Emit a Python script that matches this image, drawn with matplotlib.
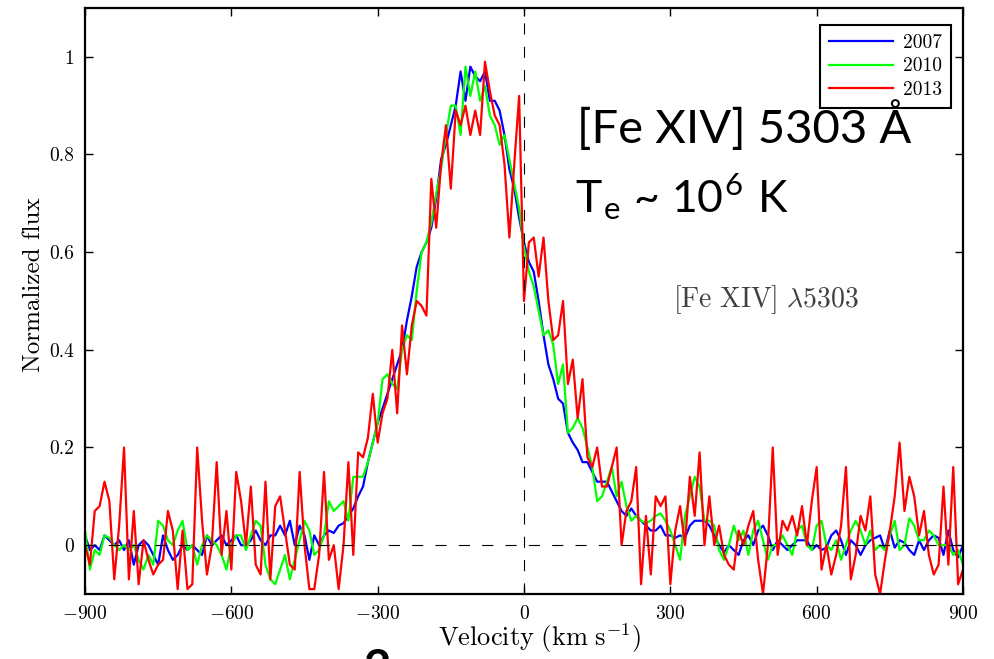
import numpy as np
import matplotlib
matplotlib.use('Agg')
import matplotlib.pyplot as plt

plt.rcParams['mathtext.fontset'] = 'cm'
plt.rcParams['font.family'] = 'serif'
plt.rcParams['font.serif'] = ['cmr10']
plt.rcParams['axes.unicode_minus'] = False

# velocity grid (km/s), one sample every 10 km/s
vel = np.arange(-900, 901, 10)

# 2007 (blue)
flux_2007 = [
    0.02, -0.01, 0.0, -0.01, 0.02, 0.01, 0.0, 0.01, -0.01, 0.01,
    -0.04, 0.0, 0.01, 0.0, -0.02, -0.04, 0.02, -0.01, -0.03, -0.02,
    0.0, -0.01, 0.0, -0.01, -0.02, 0.02, 0.0, 0.01, 0.02, 0.0,
    0.01, 0.02, 0.0,
    0.0, 0.01, 0.03, 0.01, 0.0, 0.02, 0.02, 0.04, 0.02, 0.05,
    0.0, 0.04, 0.02, -0.03, 0.02, 0.0, 0.02, 0.03, 0.025, 0.04,
    0.045, 0.06, 0.075, 0.10, 0.12, 0.17, 0.21, 0.25,
    0.28, 0.31, 0.34, 0.37, 0.40, 0.46, 0.51, 0.57, 0.60, 0.62,
    0.65, 0.71, 0.79, 0.82, 0.86, 0.90, 0.97, 0.91, 0.98, 0.96,
    0.95, 0.97, 0.91, 0.91, 0.89, 0.84, 0.77, 0.73, 0.67,
    0.62,
    0.58, 0.56, 0.50, 0.43, 0.37, 0.34, 0.30, 0.29, 0.23, 0.21,
    0.195, 0.17, 0.17, 0.15, 0.13, 0.13, 0.13, 0.11, 0.09, 0.07,
    0.06, 0.075, 0.06, 0.05, 0.04, 0.03, 0.03, 0.04, 0.02, 0.02,
    0.015, 0.02, 0.015, 0.04,
    0.05, 0.05, 0.05, 0.04, 0.02, 0.0, -0.015, 0.0, -0.01, -0.02,
    0.01, 0.02, 0.0, 0.03, 0.04, 0.02, -0.01, 0.01, 0.0, -0.01,
    0.0, 0.01, 0.01, 0.01, -0.01, 0.0, -0.01, -0.005, 0.02, 0.03,
    0.01, -0.02, 0.01, 0.0, -0.02, 0.0, 0.01, 0.015, 0.02, -0.01,
    0.03, -0.005, 0.01, 0.005, -0.01, -0.02, 0.01, -0.01, 0.01, 0.02,
    0.015, -0.02, 0.03, -0.01, -0.025, 0.0,
]

# 2010 (green)
flux_2010 = [
    0.03, -0.05, -0.01, -0.02, 0.02, 0.015, 0.0, -0.01, 0.0, -0.01,
    0.0, -0.03, -0.05, -0.02, -0.04, 0.05, 0.04, 0.01, 0.0, 0.03,
    0.05, -0.01, 0.0, -0.04, 0.0, 0.02, 0.01, 0.0, -0.02, -0.05,
    0.0, 0.02, 0.02,
    -0.01, 0.02, 0.05, 0.04, -0.04, -0.07, -0.08, -0.05, -0.02, -0.07,
    -0.03, 0.01, 0.05, 0.03, -0.02, -0.01, 0.02, 0.09, 0.07, 0.08,
    0.09, 0.05, 0.14, 0.14, 0.14, 0.17, 0.21, 0.25,
    0.34, 0.35, 0.33, 0.32, 0.40, 0.43, 0.42, 0.52, 0.60, 0.62,
    0.66, 0.72, 0.77, 0.84, 0.90, 0.90, 0.84, 0.98, 0.92, 0.97,
    0.91, 0.94, 0.88, 0.86, 0.82, 0.84, 0.79, 0.74, 0.69,
    0.61,
    0.56, 0.53, 0.48, 0.43, 0.44, 0.41, 0.33, 0.37, 0.23, 0.24,
    0.26, 0.24, 0.20, 0.16, 0.09, 0.10, 0.13, 0.16, 0.10, 0.13,
    0.08, 0.05, 0.06, 0.05, 0.045, 0.05, 0.06, 0.065, 0.05, 0.03,
    0.0, -0.03, 0.06, 0.10,
    0.14, 0.12, 0.05, 0.05, 0.04, -0.01, -0.03, 0.0, 0.04, 0.01,
    0.03, -0.02, 0.03, 0.05, 0.01, -0.03, 0.0, 0.0, 0.02, 0.0,
    -0.02, 0.03, 0.04, 0.0, -0.01, 0.04, 0.05, 0.0, -0.01, 0.01,
    -0.03, 0.0, 0.03, 0.05, 0.03, 0.0, 0.03, -0.01, 0.0, -0.01,
    0.02, 0.05, -0.01, 0.0, 0.055, 0.04, 0.01, 0.01, 0.03, 0.02,
    0.0, 0.0, 0.0, -0.02, -0.01, -0.04,
]

# 2013 (red)
flux_2013 = [
    0.0, -0.04, 0.07, 0.08, 0.13, 0.09, -0.07, 0.04, 0.20, -0.07,
    0.07, -0.08, 0.01, -0.03, -0.06, -0.04, -0.03, 0.07, 0.03, -0.09,
    0.03, -0.09, -0.08, 0.20, 0.05, -0.06, 0.0, 0.17, -0.02, 0.07,
    -0.05, 0.15, 0.09, 0.0,
    0.12, -0.04, -0.06, 0.13, -0.07, 0.08, 0.10, 0.03, -0.04, -0.05,
    0.15, 0.0, -0.09, -0.09, -0.02, 0.15, -0.03, 0.0, -0.09, 0.0,
    0.17, -0.02, 0.19, 0.18, 0.22, 0.31, 0.21, 0.27, 0.30,
    0.40, 0.27, 0.45, 0.35, 0.45, 0.50, 0.49, 0.47, 0.75, 0.65,
    0.78, 0.86, 0.73, 0.89, 0.86, 0.90, 0.84, 0.89, 0.84, 0.99,
    0.93, 0.88, 0.86, 0.78, 0.63, 0.78, 0.92, 0.50, 0.62, 0.63,
    0.55, 0.63, 0.50, 0.42, 0.43, 0.50, 0.33, 0.38, 0.26, 0.34,
    0.18, 0.16, 0.20, 0.12, 0.12, 0.16, 0.20, 0.0, 0.07, 0.09,
    0.16, -0.08, 0.06, -0.06, 0.10, 0.08, 0.10, -0.08, 0.03, 0.08,
    0.0, 0.14,
    0.06, 0.19, 0.0, 0.10, 0.0, 0.04, -0.02, -0.04, -0.05,
    0.03, 0.0, 0.04, 0.07, -0.03, -0.10, 0.0, 0.20, -0.02, 0.05,
    0.03, 0.06, 0.02, 0.08, 0.0, 0.09, 0.16, -0.05, 0.0, -0.06,
    -0.02, 0.04, 0.16, -0.07, -0.02, 0.06, 0.03, 0.10, -0.06, -0.10,
    -0.03, 0.03, 0.10, 0.21, 0.07, 0.14, 0.10, 0.02, 0.07, -0.02,
    -0.06, -0.04, 0.12, -0.04, 0.16, -0.08, -0.05,
]

years = ['2007', '2010', '2013']
colors = [(0, 0, 1), (0, 1, 0), (1, 0, 0)]

xticks = [-900, -600, -300, 0, 300, 600, 900]
yticks = [0, 0.2, 0.4, 0.6, 0.8, 1.0]
ytick_labels = ['0', '0.2', '0.4', '0.6', '0.8', '1']

W, H = 995, 659
fig = plt.figure(figsize=(W / 100, H / 100), dpi=100)
ax = fig.add_axes([85 / W, 1 - 594 / H, (963 - 85) / W, (594 - 8) / H])

for flux, year, c in zip([flux_2007, flux_2010, flux_2013], years, colors):
    ax.plot(vel, flux, color=c, lw=1.6, label=year, zorder=2)

ax.axhline(0, color='k', lw=0.8, dashes=(10, 11), zorder=3)
ax.axvline(0, color='k', lw=0.8, dashes=(10, 11), zorder=3)

ax.set_xlim(-900, 900)
ax.set_ylim(-0.1, 1.1)
ax.set_xticks(xticks)
ax.set_xticklabels(['$%d$' % t for t in xticks])
ax.set_yticks(yticks)
ax.set_yticklabels(ytick_labels)
ax.tick_params(direction='in', length=6, width=1, top=True, right=True,
               labelsize=14, pad=8)
for s in ax.spines.values():
    s.set_linewidth(1.6)

ax.set_xlabel(r'$\mathrm{Velocity\ (km\ s^{-1})}$', fontsize=19)
ax.xaxis.set_label_coords((540 - 85) / 878, -0.047)
ax.set_ylabel('Normalized flux', fontsize=18)
ax.yaxis.set_label_coords((45 - 85) / 878, (594 - 285) / 586)

leg = ax.legend(loc='upper right', bbox_to_anchor=(0.9863, 0.971),
                borderaxespad=0, fontsize=14, handlelength=3.3,
                labelspacing=0.3, fancybox=False, framealpha=1,
                borderpad=0.45, handletextpad=0.5)
leg.get_frame().set_edgecolor('k')
leg.get_frame().set_linewidth(1.5)

# overlay annotations
fig.text(577 / W, 1 - 143 / H, '[Fe XIV] 5303 Å', family='Lato',
         fontsize=34, va='baseline', ha='left', zorder=10)
fig.text(575 / W, 1 - 212 / H,
         r'T$_\mathregular{e}$ ~ 10$^\mathregular{6}$ K', family='Lato',
         fontsize=32, va='baseline', ha='left', zorder=10)
fig.text(673 / W, 1 - 307 / H, r'$[\mathrm{Fe\ XIV}]\ \lambda5303$',
         fontsize=20, color='#404040', va='baseline', ha='left')
fig.text(363 / W, 1 - 648 / H, '2', family='Lato', fontweight='bold',
         fontsize=34, va='top', ha='left')

fig.savefig('out.png', dpi=100)
